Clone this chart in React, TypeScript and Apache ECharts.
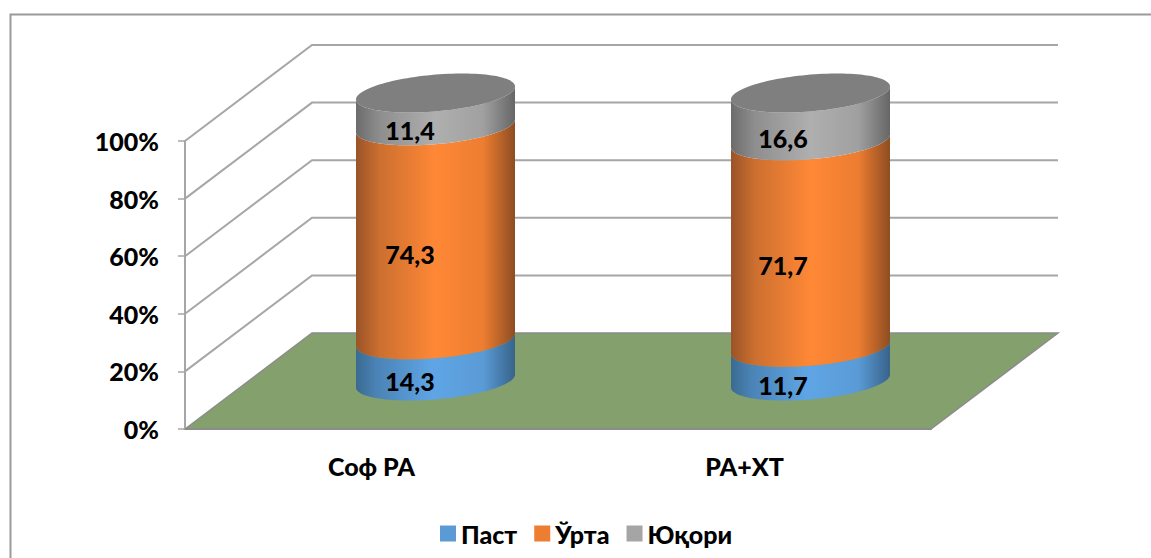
import React, { useEffect, useRef } from "react";
import * as echarts from "echarts";

const categories = ["Соф РА", "РА+ХТ"];
const seriesNames = ["Паст", "Ўрта", "Юқори"];
const past = [14.3, 11.7];
const urta = [74.3, 71.7];
const yuqori = [11.4, 16.6];
const yTicks = [0, 20, 40, 60, 80, 100];

const FONT = "Lato, 'Open Sans', sans-serif";
const WEIGHT = 900;
const DEPTH_X = 127;
const DEPTH_Y = 96;
const CYL_SHIFT = [64, 66];
const LABEL_SHIFT = 38.5;
const CYL_RX = 79.5;
const CYL_TILT = 6.5;
const CYL_H = 18.4;
const GRID_COLOR = "#a6a6a6";

const sideFills = [
  [[0, "#3a6a90"], [0.12, "#4a82b4"], [0.48, "#5fa5e5"], [0.8, "#5a9bd6"], [1, "#38638a"]],
  [[0, "#9a5428"], [0.15, "#cc6f30"], [0.5, "#ff8836"], [0.8, "#ed7d31"], [1, "#8e4d22"]],
  [[0, "#6c6c6c"], [0.15, "#8e8e8e"], [0.5, "#afafaf"], [0.8, "#a0a0a0"], [1, "#666666"]],
];
const capFill = "#7f7f7f";

function ellipsePoint(cx: number, cy: number, t: number): number[] {
  return [cx + CYL_RX * Math.cos(t), cy - CYL_TILT * Math.cos(t) + CYL_H * Math.sin(t)];
}

function frontArc(cx: number, cy: number, reverse: boolean): number[][] {
  const pts: number[][] = [];
  const n = 60;
  for (let i = 0; i <= n; i++) {
    const t = (Math.PI * (reverse ? n - i : i)) / n;
    pts.push(ellipsePoint(cx, cy, t));
  }
  return pts;
}

function fullEllipse(cx: number, cy: number): number[][] {
  const pts: number[][] = [];
  for (let i = 0; i < 120; i++) pts.push(ellipsePoint(cx, cy, (Math.PI * i) / 60));
  return pts;
}

function makeSegment(idx: number, values: number[], lowers: number[]) {
  return {
    name: seriesNames[idx],
    type: "custom",
    coordinateSystem: "cartesian2d",
    clip: false,
    z: 5 + idx,
    itemStyle: { color: ["#5b9bd5", "#ed7d31", "#a5a5a5"][idx] },
    encode: { x: 0, y: 2 },
    data: values.map((v, i) => [categories[i], lowers[i], lowers[i] + v, v]),
    renderItem: (params: any, api: any) => {
      const lo = api.value(1);
      const hi = api.value(2);
      const val = api.value(3);
      const base = api.coord([api.value(0), lo]);
      const top = api.coord([api.value(0), hi]);
      const cx = base[0] + CYL_SHIFT[params.dataIndex];
      const yLo = base[1] - DEPTH_Y / 2;
      const yHi = top[1] - DEPTH_Y / 2;
      const pts = [...frontArc(cx, yLo, false), ...frontArc(cx, yHi, true)];
      const children: any[] = [
        {
          type: "polygon",
          shape: { points: pts },
          style: {
            fill: new echarts.graphic.LinearGradient(
              0, 0, 1, 0,
              sideFills[idx].map((s) => ({ offset: s[0] as number, color: s[1] as string }))
            ),
          },
        },
      ];
      if (idx === 2) {
        children.push({
          type: "polygon",
          shape: { points: fullEllipse(cx, yHi) },
          style: { fill: capFill },
        });
      }
      children.push({
        type: "text",
        x: base[0] + LABEL_SHIFT,
        y: (yLo + yHi) / 2 + 21,
        z2: 10,
        style: {
          text: val.toFixed(1).replace(".", ","),
          fill: "#000",
          font: `${WEIGHT} 25px ${FONT}`,
          align: "center",
          verticalAlign: "middle",
        },
      });
      return { type: "group", children };
    },
  };
}

const lowers1 = past.map(() => 0);
const lowers2 = past.slice();
const lowers3 = past.map((v, i) => v + urta[i]);

export default function App() {
  const ref = useRef<HTMLDivElement>(null);
  useEffect(() => {
    const chart = echarts.init(ref.current!, null, { renderer: "svg" });
    chart.setOption({
      animation: false,
      backgroundColor: "#fff",
      textStyle: { fontFamily: FONT },
      grid: { left: 185, right: 220, top: 141, bottom: 129, containLabel: false },
      legend: {
        data: seriesNames,
        left: 435,
        top: 516,
        icon: "rect",
        itemWidth: 16,
        itemHeight: 16,
        itemGap: 17,
        textStyle: { fontFamily: FONT, fontWeight: WEIGHT, fontSize: 25, color: "#000" },
      },
      xAxis: {
        type: "category",
        data: categories,
        axisLine: { lineStyle: { color: "#8c8c8c", width: 2 } },
        axisTick: { length: 7, lineStyle: { color: "#a6a6a6", width: 1.5 } },
        axisLabel: { margin: 24, fontFamily: FONT, fontWeight: WEIGHT, fontSize: 25, color: "#000" },
        z: 3,
      },
      yAxis: {
        type: "value",
        min: 0,
        max: 100,
        interval: 20,
        axisLine: { show: true, lineStyle: { color: GRID_COLOR, width: 2 } },
        axisTick: { show: true, length: 7, lineStyle: { color: "#a6a6a6", width: 1.5 } },
        splitLine: { show: false },
        axisLabel: {
          margin: 26,
          padding: [2, 0, 0, 0],
          fontFamily: FONT,
          fontWeight: WEIGHT,
          fontSize: 25,
          color: "#000",
          formatter: (v: number) => `${v}%`,
        },
        z: 3,
      },
      graphic: [
        {
          type: "polyline",
          silent: true,
          shape: { points: [[10.5, 558], [10.5, 14.5], [1151, 14.5]] },
          style: { stroke: "#9a9a9a", lineWidth: 2, fill: "none" },
        },
      ],
      series: [
        {
          type: "custom",
          name: "walls",
          clip: false,
          z: 1,
          encode: { y: 1 },
          data: yTicks.map((v) => [0, v]),
          renderItem: (params: any, api: any) => {
            const v = api.value(1);
            const front = api.coord([0, v]);
            const left = params.coordSys.x;
            const right = left + params.coordSys.width;
            const y = front[1];
            const children: any[] = [];
            if (v === 0) {
              children.push({
                type: "polygon",
                shape: {
                  points: [
                    [left, y],
                    [left + DEPTH_X, y - DEPTH_Y],
                    [right + DEPTH_X, y - DEPTH_Y],
                    [right, y],
                  ],
                },
                style: { fill: "#83a06d", stroke: "#8c8c8c", lineWidth: 1.5 },
              });
            } else {
              children.push({
                type: "polyline",
                shape: {
                  points: [
                    [left, y],
                    [left + DEPTH_X, y - DEPTH_Y],
                    [right + DEPTH_X, y - DEPTH_Y],
                  ],
                },
                style: { stroke: GRID_COLOR, lineWidth: 2, fill: "none" },
              });
            }
            return { type: "group", children };
          },
        },
        makeSegment(0, past, lowers1),
        makeSegment(1, urta, lowers2),
        makeSegment(2, yuqori, lowers3),
      ],
    });
    return () => chart.dispose();
  }, []);
  return <div ref={ref} style={{ width: 1151, height: 558, position: "absolute", left: 0, top: 0 }} />;
}
